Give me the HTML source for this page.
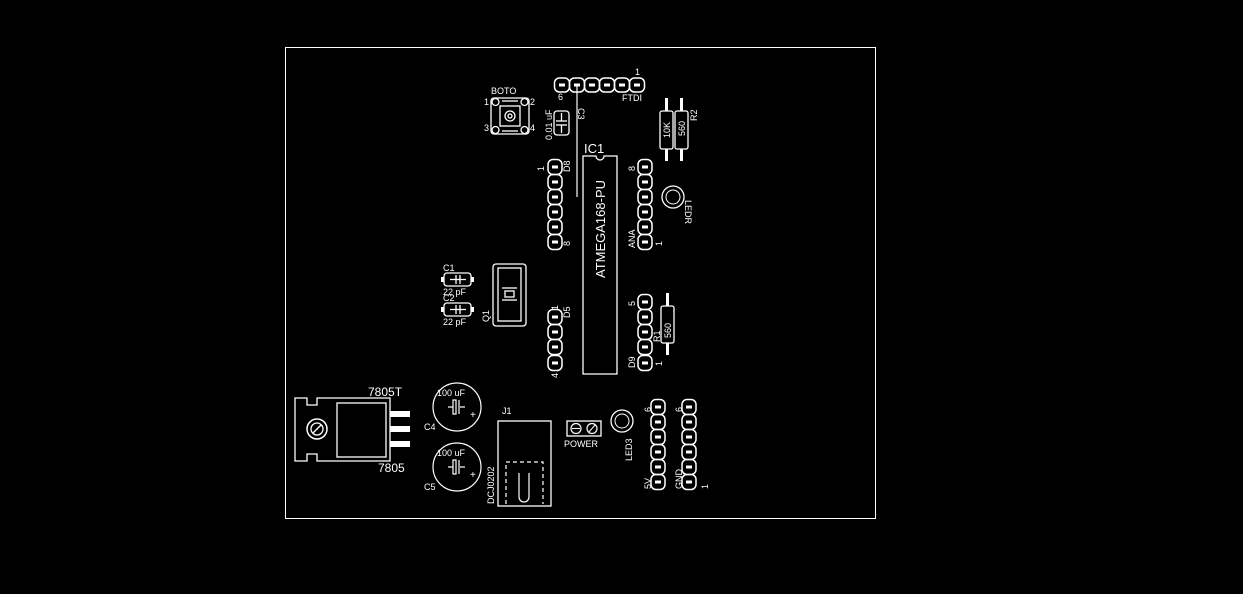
<!DOCTYPE html>
<html><head><style>
html,body{margin:0;padding:0;background:#000;}
svg{display:block;}
text{font-family:"Liberation Sans",sans-serif;fill:#fff;}
</style></head><body>
<svg width="1243" height="594" viewBox="0 0 1243 594" xmlns="http://www.w3.org/2000/svg">
<defs>
<g id="pv">
<rect x="-7" y="-7.5" width="14" height="15" rx="5" fill="none" stroke="#fff" stroke-width="1.5"/>
<rect x="-3" y="-1.5" width="6" height="3" fill="#fff"/>
</g>
<g id="ph">
<rect x="-7.5" y="-7" width="15" height="14" rx="5" fill="none" stroke="#fff" stroke-width="1.5"/>
<rect x="-3" y="-1.5" width="6" height="3" fill="#fff"/>
</g>
</defs>
<rect x="285.5" y="47.5" width="590" height="471" fill="none" stroke="#fff" stroke-width="1"/>
<g fill="none" stroke="#fff" stroke-width="1.5">
<!-- FTDI -->
</g>
<use href="#ph" x="562" y="85"/><use href="#ph" x="577" y="85"/><use href="#ph" x="592" y="85"/><use href="#ph" x="607" y="85"/><use href="#ph" x="622" y="85"/><use href="#ph" x="637" y="85"/>
<text x="635" y="75" font-size="9">1</text>
<text x="558" y="100" font-size="9">6</text>
<text x="622" y="101" font-size="9">FTDI</text>
<line x1="577" y1="85" x2="577" y2="197" stroke="#fff" stroke-width="1.2"/>
<!-- BOTO -->
<g fill="none" stroke="#fff" stroke-width="1.3">
<rect x="491" y="98" width="38" height="36" rx="3"/>
<circle cx="495.5" cy="102" r="3.5"/><circle cx="524.5" cy="102" r="3.5"/>
<circle cx="495.5" cy="130" r="3.5"/><circle cx="524.5" cy="130" r="3.5"/>
<rect x="500" y="106" width="20" height="20"/>
<circle cx="510" cy="116" r="5"/><circle cx="510" cy="116" r="2"/>
<line x1="502" y1="101" x2="518" y2="101"/><line x1="502" y1="131" x2="518" y2="131"/>
</g>
<text x="491" y="94" font-size="9">BOTO</text>
<text x="484" y="105" font-size="9">1</text><text x="530" y="105" font-size="9">2</text>
<text x="484" y="131" font-size="9">3</text><text x="530" y="131" font-size="9">4</text>
<!-- C3 -->
<g fill="none" stroke="#fff" stroke-width="1.3">
<rect x="554" y="111" width="15" height="24" rx="3"/>
<line x1="556" y1="121" x2="567" y2="121"/><line x1="556" y1="125" x2="567" y2="125"/>
<line x1="561.5" y1="113" x2="561.5" y2="121"/><line x1="561.5" y1="125" x2="561.5" y2="133"/>
</g>
<text transform="translate(552,140) rotate(-90)" font-size="9">0.01 uF</text>
<text transform="translate(578,108) rotate(90)" font-size="9">C3</text>
<!-- IC1 -->
<path d="M583,156 H596 A4,4 0 0 0 604,156 H617 V374 H583 Z" fill="none" stroke="#fff" stroke-width="1.3"/>
<text x="584" y="153" font-size="13">IC1</text>
<text transform="translate(605,278) rotate(-90)" font-size="13">ATMEGA168-PU</text>
<!-- D8 header -->
<use href="#pv" x="555" y="167"/><use href="#pv" x="555" y="182"/><use href="#pv" x="555" y="197"/><use href="#pv" x="555" y="212"/><use href="#pv" x="555" y="227"/><use href="#pv" x="555" y="242"/>
<text transform="translate(544,171) rotate(-90)" font-size="9">1</text>
<text transform="translate(570,172) rotate(-90)" font-size="9">D8</text>
<text transform="translate(570,246) rotate(-90)" font-size="9">8</text>
<!-- ANA header -->
<use href="#pv" x="645" y="167"/><use href="#pv" x="645" y="182"/><use href="#pv" x="645" y="197"/><use href="#pv" x="645" y="212"/><use href="#pv" x="645" y="227"/><use href="#pv" x="645" y="242"/>
<text transform="translate(635,171) rotate(-90)" font-size="9">8</text>
<text transform="translate(635,248) rotate(-90)" font-size="9">ANA</text>
<text transform="translate(662,246) rotate(-90)" font-size="9">1</text>
<!-- R3/R2 -->
<g fill="none" stroke="#fff" stroke-width="1.3">
<rect x="660" y="111" width="13" height="38" rx="2"/>
<rect x="675" y="111" width="13" height="38" rx="2"/>
</g>
<g fill="#fff"><rect x="665" y="98" width="3" height="13"/><rect x="665" y="149" width="3" height="12"/><rect x="680" y="98" width="3" height="13"/><rect x="680" y="149" width="3" height="12"/></g>
<text transform="translate(670,138) rotate(-90)" font-size="9">10K</text>
<text transform="translate(685,136) rotate(-90)" font-size="9">560</text>
<text transform="translate(697,121) rotate(-90)" font-size="9">R2</text>
<!-- LDR -->
<circle cx="673" cy="197" r="11" fill="none" stroke="#fff" stroke-width="1.3"/>
<circle cx="673" cy="197" r="7" fill="none" stroke="#fff" stroke-width="1"/>
<text transform="translate(685,200) rotate(90)" font-size="9">LEDR</text>
<!-- C1 C2 -->
<g fill="none" stroke="#fff" stroke-width="1.3">
<rect x="444" y="273" width="27" height="13" rx="3"/>
<rect x="444" y="303" width="27" height="13" rx="3"/>
<line x1="456" y1="275" x2="456" y2="284"/><line x1="460" y1="275" x2="460" y2="284"/>
<line x1="456" y1="305" x2="456" y2="314"/><line x1="460" y1="305" x2="460" y2="314"/>
<line x1="450" y1="279.5" x2="466" y2="279.5"/><line x1="450" y1="309.5" x2="466" y2="309.5"/>
</g>
<g fill="#fff"><rect x="441" y="277" width="3" height="5"/><rect x="471" y="277" width="3" height="5"/><rect x="441" y="307" width="3" height="5"/><rect x="471" y="307" width="3" height="5"/></g>
<text x="443" y="271" font-size="9">C1</text><text x="443" y="295" font-size="9">22 pF</text>
<text x="443" y="301" font-size="9">C2</text><text x="443" y="325" font-size="9">22 pF</text>
<!-- Q1 -->
<g fill="none" stroke="#fff" stroke-width="1.3">
<rect x="493" y="264" width="33" height="62" rx="3"/>
<rect x="498" y="268" width="23" height="53"/>
<rect x="505" y="291" width="9" height="6"/>
<line x1="502" y1="288" x2="517" y2="288"/><line x1="502" y1="300" x2="517" y2="300"/>
</g>
<text transform="translate(489,322) rotate(-90)" font-size="9">Q1</text>
<!-- D5 header -->
<use href="#pv" x="555" y="317"/><use href="#pv" x="555" y="332"/><use href="#pv" x="555" y="347"/><use href="#pv" x="555" y="363"/>
<text transform="translate(558,310) rotate(-90)" font-size="9">1</text>
<text transform="translate(570,318) rotate(-90)" font-size="9">D5</text>
<text transform="translate(558,378) rotate(-90)" font-size="9">4</text>
<!-- D9 header -->
<use href="#pv" x="645" y="302"/><use href="#pv" x="645" y="317"/><use href="#pv" x="645" y="332"/><use href="#pv" x="645" y="347"/><use href="#pv" x="645" y="363"/>
<text transform="translate(635,306) rotate(-90)" font-size="9">5</text>
<text transform="translate(635,368) rotate(-90)" font-size="9">D9</text>
<text transform="translate(662,366) rotate(-90)" font-size="9">1</text>
<!-- R1 -->
<rect x="661" y="306" width="13" height="37" rx="2" fill="none" stroke="#fff" stroke-width="1.3"/>
<rect x="666" y="293" width="3" height="13" fill="#fff"/><rect x="666" y="343" width="3" height="12" fill="#fff"/>
<text transform="translate(671,338) rotate(-90)" font-size="9">560</text>
<text transform="translate(660,342) rotate(-90)" font-size="9">R1</text>
<!-- Regulator -->
<path d="M295,398 H307 V405 H317 V398 H390 V461 H317 V454 H307 V461 H295 Z" fill="none" stroke="#fff" stroke-width="1.3"/>
<rect x="337" y="403" width="49" height="54" fill="none" stroke="#fff" stroke-width="1.3"/>
<circle cx="317" cy="429" r="10" fill="none" stroke="#fff" stroke-width="1.5"/>
<circle cx="317" cy="429" r="6" fill="none" stroke="#fff" stroke-width="1.3"/>
<line x1="313" y1="433" x2="321" y2="425" stroke="#fff" stroke-width="1.3"/>
<g fill="#fff"><rect x="390" y="411" width="20" height="6"/><rect x="390" y="426" width="20" height="6"/><rect x="390" y="441" width="20" height="6"/></g>
<text x="368" y="396" font-size="12">7805T</text>
<text x="378" y="472" font-size="12">7805</text>
<!-- C4 C5 -->
<g fill="none" stroke="#fff" stroke-width="1.2">
<circle cx="457" cy="407" r="24"/><circle cx="457" cy="467" r="24"/>
<line x1="448" y1="407" x2="453" y2="407"/><line x1="460" y1="407" x2="465" y2="407"/>
<rect x="453" y="400" width="3" height="14"/><line x1="459" y1="400" x2="459" y2="414"/>
<line x1="448" y1="467" x2="453" y2="467"/><line x1="460" y1="467" x2="465" y2="467"/>
<rect x="453" y="460" width="3" height="14"/><line x1="459" y1="460" x2="459" y2="474"/>
</g>
<text x="437" y="396" font-size="9">100 uF</text><text x="437" y="456" font-size="9">100 uF</text>
<text x="470" y="418" font-size="10">+</text><text x="470" y="478" font-size="10">+</text>
<text x="424" y="430" font-size="9">C4</text><text x="424" y="490" font-size="9">C5</text>
<!-- J1 -->
<rect x="498" y="421" width="53" height="85" fill="none" stroke="#fff" stroke-width="1.3"/>
<g fill="none" stroke="#fff" stroke-width="1.2" stroke-dasharray="4,3">
<path d="M506,504 V462 H543 V504"/>
</g>
<path d="M519,473 V497 A5,5 0 0 0 529,497 V473" fill="none" stroke="#fff" stroke-width="1.2"/>
<text x="502" y="414" font-size="9">J1</text>
<text transform="translate(494,504) rotate(-90)" font-size="9">DCJ0202</text>
<!-- POWER -->
<rect x="567" y="421" width="34" height="15" fill="none" stroke="#fff" stroke-width="1.3"/>
<circle cx="576" cy="428.5" r="5" fill="none" stroke="#fff" stroke-width="1.2"/>
<circle cx="592" cy="428.5" r="5" fill="none" stroke="#fff" stroke-width="1.2"/>
<line x1="572" y1="428.5" x2="580" y2="428.5" stroke="#fff"/><line x1="589" y1="432" x2="595" y2="425" stroke="#fff"/>
<text x="564" y="447" font-size="9">POWER</text>
<!-- LED3 -->
<circle cx="622" cy="421" r="11" fill="none" stroke="#fff" stroke-width="1.3"/>
<circle cx="622" cy="421" r="7" fill="none" stroke="#fff" stroke-width="1"/>
<text transform="translate(632,461) rotate(-90)" font-size="9">LED3</text>
<!-- bottom headers -->
<use href="#pv" x="658" y="407"/><use href="#pv" x="658" y="422"/><use href="#pv" x="658" y="437"/><use href="#pv" x="658" y="452"/><use href="#pv" x="658" y="467"/><use href="#pv" x="658" y="482"/>
<use href="#pv" x="689" y="407"/><use href="#pv" x="689" y="422"/><use href="#pv" x="689" y="437"/><use href="#pv" x="689" y="452"/><use href="#pv" x="689" y="467"/><use href="#pv" x="689" y="482"/>
<text transform="translate(651,412) rotate(-90)" font-size="9">6</text>
<text transform="translate(682,412) rotate(-90)" font-size="9">6</text>
<text transform="translate(651,489) rotate(-90)" font-size="9">5V</text>
<text transform="translate(682,489) rotate(-90)" font-size="9">GND</text>
<text transform="translate(708,489) rotate(-90)" font-size="9">1</text>
</svg>
</body></html>
